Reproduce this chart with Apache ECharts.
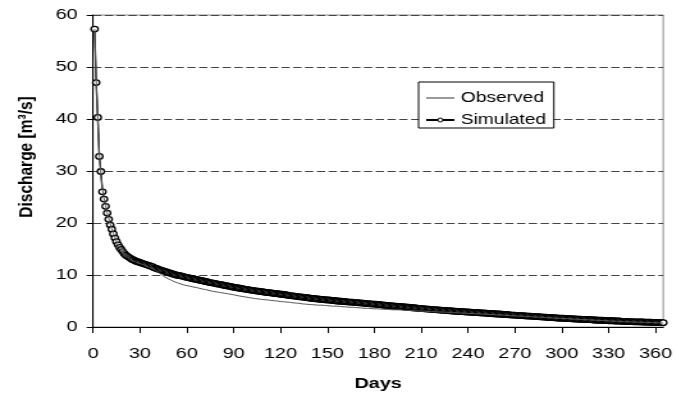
<!DOCTYPE html>
<html>
<head>
<meta charset="utf-8">
<script src="https://cdn.jsdelivr.net/npm/echarts@6/dist/echarts.min.js"></script>
<style>
  html, body { margin: 0; padding: 0; background: #fff; overflow: hidden; }
  /* the original picture is stretched sideways, so draw narrow and stretch */
  #main { width: 528px; height: 397px; transform: scaleX(1.28); transform-origin: 0 0; }
</style>
</head>
<body>
<div id="main"></div>
<script>
// day 1 .. 365, one value per day
var observed = [
  57.3, 47.5, 40.0, 33.5, 29.5, 26.5, 24.8, 23.4, 22.0, 20.9, 19.8, 18.9, 18.0, 17.2, 16.5,
  15.9, 15.3, 14.8, 14.4, 14.0, 13.7, 13.4, 13.2, 13.0, 12.8, 12.7, 12.5, 12.4, 12.3, 12.2,
  12.1, 12.0, 11.9, 11.7, 11.6, 11.5, 11.3, 11.2, 11.0, 10.9, 10.7, 10.5, 10.3, 10.0, 9.8,
  9.6, 9.4, 9.3, 9.1, 9.0, 8.8, 8.7, 8.6, 8.5, 8.4, 8.3, 8.2, 8.1, 8.0, 7.95,
  7.9, 7.85, 7.8, 7.7, 7.65, 7.6, 7.5, 7.45, 7.4, 7.3, 7.25, 7.2, 7.1, 7.05, 7.0,
  6.9, 6.85, 6.8, 6.75, 6.7, 6.65, 6.6, 6.55, 6.5, 6.45, 6.4, 6.35, 6.3, 6.25, 6.2,
  6.1, 6.05, 6.0, 5.95, 5.9, 5.85, 5.8, 5.75, 5.7, 5.65, 5.6, 5.55, 5.5, 5.45, 5.4,
  5.4, 5.35, 5.3, 5.3, 5.25, 5.2, 5.2, 5.15, 5.1, 5.1, 5.05, 5.0, 5.0, 4.95, 4.9,
  4.9, 4.85, 4.85, 4.8, 4.75, 4.75, 4.7, 4.65, 4.65, 4.6, 4.55, 4.55, 4.5, 4.45, 4.45,
  4.4, 4.4, 4.35, 4.35, 4.3, 4.3, 4.25, 4.25, 4.2, 4.2, 4.2, 4.15, 4.15, 4.1, 4.1,
  4.1, 4.05, 4.05, 4.0, 4.0, 4.0, 3.95, 3.95, 3.9, 3.9, 3.9, 3.85, 3.85, 3.8, 3.8,
  3.8, 3.75, 3.75, 3.7, 3.7, 3.7, 3.65, 3.65, 3.6, 3.6, 3.6, 3.55, 3.55, 3.5, 3.5,
  3.5, 3.5, 3.45, 3.45, 3.45, 3.4, 3.4, 3.4, 3.35, 3.35, 3.35, 3.3, 3.3, 3.3, 3.3,
  3.3, 3.25, 3.25, 3.25, 3.2, 3.2, 3.2, 3.15, 3.15, 3.15, 3.1, 3.1, 3.1, 3.1, 3.05,
  3.05, 3.05, 3.0, 3.0, 3.0, 2.95, 2.95, 2.95, 2.9, 2.9, 2.9, 2.9, 2.85, 2.85, 2.85,
  2.85, 2.8, 2.8, 2.8, 2.75, 2.75, 2.75, 2.7, 2.7, 2.7, 2.7, 2.65, 2.65, 2.65, 2.6,
  2.6, 2.6, 2.6, 2.55, 2.55, 2.55, 2.5, 2.5, 2.5, 2.5, 2.45, 2.45, 2.45, 2.4, 2.4,
  2.4, 2.35, 2.35, 2.35, 2.3, 2.3, 2.3, 2.25, 2.25, 2.25, 2.2, 2.2, 2.2, 2.15, 2.15,
  2.15, 2.1, 2.1, 2.1, 2.05, 2.05, 2.05, 2.0, 2.0, 2.0, 1.95, 1.95, 1.95, 1.9, 1.9,
  1.9, 1.85, 1.85, 1.85, 1.8, 1.8, 1.8, 1.75, 1.75, 1.75, 1.7, 1.7, 1.7, 1.65, 1.65,
  1.65, 1.6, 1.6, 1.6, 1.55, 1.55, 1.55, 1.5, 1.5, 1.5, 1.45, 1.45, 1.45, 1.4, 1.4,
  1.4, 1.4, 1.35, 1.35, 1.35, 1.3, 1.3, 1.3, 1.25, 1.25, 1.25, 1.2, 1.2, 1.2, 1.15,
  1.15, 1.15, 1.1, 1.1, 1.1, 1.1, 1.05, 1.05, 1.05, 1.0, 1.0, 1.0, 1.0, 0.98, 0.97,
  0.96, 0.95, 0.94, 0.93, 0.92, 0.91, 0.9, 0.89, 0.88, 0.87, 0.86, 0.85, 0.84, 0.83, 0.82,
  0.81, 0.8, 0.79, 0.78, 0.77
];

var simulated = [
  57.3, 47.0, 40.3, 32.8, 29.9, 26.0, 24.6, 23.2, 21.9, 20.7, 19.6, 18.8, 17.9, 17.1, 16.4,
  15.8, 15.3, 14.9, 14.5, 14.1, 13.8, 13.6, 13.4, 13.2, 13.0, 12.9, 12.7, 12.6, 12.5, 12.4,
  12.3, 12.2, 12.1, 12.0, 11.9, 11.8, 11.7, 11.6, 11.4, 11.3, 11.2, 11.1, 11.0, 10.9, 10.8,
  10.7, 10.6, 10.5, 10.4, 10.3, 10.2, 10.1, 10.0, 9.95, 9.9, 9.85, 9.8, 9.7, 9.6, 9.55,
  9.5, 9.4, 9.35, 9.3, 9.2, 9.15, 9.1, 9.0, 8.95, 8.9, 8.8, 8.75, 8.7, 8.6, 8.55,
  8.5, 8.45, 8.4, 8.3, 8.25, 8.2, 8.15, 8.1, 8.0, 7.95, 7.9, 7.85, 7.8, 7.7, 7.65,
  7.6, 7.55, 7.5, 7.45, 7.4, 7.35, 7.3, 7.25, 7.2, 7.15, 7.1, 7.05, 7.0, 6.95, 6.9,
  6.9, 6.85, 6.8, 6.75, 6.7, 6.65, 6.6, 6.6, 6.55, 6.5, 6.45, 6.4, 6.4, 6.35, 6.3,
  6.3, 6.25, 6.2, 6.15, 6.1, 6.05, 6.0, 6.0, 5.95, 5.9, 5.85, 5.8, 5.8, 5.75, 5.7,
  5.7, 5.65, 5.6, 5.55, 5.5, 5.5, 5.45, 5.4, 5.4, 5.35, 5.3, 5.3, 5.25, 5.2, 5.2,
  5.2, 5.15, 5.1, 5.1, 5.05, 5.0, 5.0, 4.95, 4.95, 4.9, 4.9, 4.85, 4.85, 4.8, 4.8,
  4.8, 4.75, 4.7, 4.7, 4.65, 4.65, 4.6, 4.6, 4.55, 4.5, 4.5, 4.45, 4.45, 4.4, 4.4,
  4.4, 4.35, 4.3, 4.3, 4.25, 4.2, 4.2, 4.15, 4.1, 4.1, 4.05, 4.05, 4.0, 4.0, 3.95,
  3.95, 3.9, 3.9, 3.85, 3.85, 3.8, 3.8, 3.75, 3.7, 3.7, 3.65, 3.65, 3.6, 3.6, 3.6,
  3.55, 3.5, 3.5, 3.45, 3.45, 3.4, 3.4, 3.35, 3.35, 3.3, 3.3, 3.25, 3.25, 3.2, 3.2,
  3.2, 3.15, 3.15, 3.1, 3.1, 3.05, 3.05, 3.0, 3.0, 3.0, 2.95, 2.95, 2.9, 2.9, 2.9,
  2.85, 2.85, 2.8, 2.8, 2.8, 2.75, 2.75, 2.7, 2.7, 2.7, 2.65, 2.65, 2.6, 2.6, 2.6,
  2.55, 2.55, 2.5, 2.5, 2.5, 2.45, 2.45, 2.4, 2.4, 2.4, 2.35, 2.35, 2.3, 2.3, 2.3,
  2.25, 2.25, 2.2, 2.2, 2.2, 2.15, 2.15, 2.1, 2.1, 2.1, 2.05, 2.05, 2.0, 2.0, 2.0,
  1.95, 1.95, 1.9, 1.9, 1.9, 1.85, 1.85, 1.8, 1.8, 1.8, 1.75, 1.75, 1.7, 1.7, 1.7,
  1.7, 1.65, 1.65, 1.6, 1.6, 1.6, 1.55, 1.55, 1.55, 1.5, 1.5, 1.5, 1.45, 1.45, 1.45,
  1.45, 1.4, 1.4, 1.4, 1.35, 1.35, 1.35, 1.3, 1.3, 1.3, 1.3, 1.25, 1.25, 1.25, 1.2,
  1.2, 1.2, 1.2, 1.15, 1.15, 1.15, 1.15, 1.1, 1.1, 1.1, 1.1, 1.05, 1.05, 1.05, 1.05,
  1.0, 1.0, 1.0, 1.0, 0.98, 0.97, 0.96, 0.95, 0.94, 0.93, 0.92, 0.91, 0.9, 0.89, 0.88,
  0.87, 0.86, 0.85, 0.84, 0.83
];

var xTicks = [0, 30, 60, 90, 120, 150, 180, 210, 240, 270, 300, 330, 360];
var yTicks = [0, 10, 20, 30, 40, 50, 60];

var font = '"Liberation Sans", Arial, sans-serif';

// first value is day 1
function pairs(arr) {
  return arr.map(function (v, i) { return [i + 1, v]; });
}

var myChart = echarts.init(document.getElementById('main'), null, { renderer: 'canvas' });

var option = {
  backgroundColor: '#fff',
  animation: false,
  textStyle: { fontFamily: font, color: '#000' },
  grid: {
    left: 72.7,
    right: 9.3,
    top: 15,
    bottom: 70,
    show: true,
    borderColor: '#8c8c8c',
    borderWidth: 1,
    backgroundColor: 'transparent'
  },
  legend: {
    orient: 'vertical',
    left: 327,
    top: 82,
    padding: [8, 6, 0, 5],
    itemGap: 6,
    itemWidth: 22,
    itemHeight: 5,
    borderColor: '#000',
    borderWidth: 1,
    backgroundColor: '#fff',
    borderRadius: 0,
    textStyle: { fontFamily: font, fontSize: 15, color: '#000', lineHeight: 16 },
    data: [
      { name: 'Observed', icon: 'path://M0,0h22v1h-22z', itemStyle: { color: '#333' } },
      { name: 'Simulated', itemStyle: { color: '#fff', borderColor: '#000', borderWidth: 1 } }
    ]
  },
  xAxis: {
    type: 'value',
    min: 0,
    max: 365,
    interval: 30,
    name: 'Days',
    nameLocation: 'middle',
    nameGap: 49,
    nameTextStyle: { fontFamily: font, fontSize: 15.5, fontWeight: 'bold', color: '#000' },
    axisLine: { show: true, lineStyle: { color: '#000', width: 1 } },
    axisTick: { show: true, inside: false, length: 6, customValues: xTicks, lineStyle: { color: '#000' } },
    axisLabel: { customValues: xTicks, margin: 19, fontFamily: font, fontSize: 15.5, color: '#000' },
    splitLine: { show: false }
  },
  yAxis: {
    type: 'value',
    min: 0,
    max: 60,
    interval: 10,
    name: 'Discharge [m³/s]',
    nameLocation: 'middle',
    nameRotate: 90,
    nameGap: 44,
    nameTextStyle: { fontFamily: font, fontSize: 15.5, fontWeight: 'bold', color: '#000', padding: [0, 0, 0, 28] },
    axisLine: { show: true, lineStyle: { color: '#000', width: 1 } },
    axisTick: { show: true, inside: false, length: 5, customValues: yTicks, lineStyle: { color: '#000' } },
    axisLabel: { customValues: yTicks, margin: 12, fontFamily: font, fontSize: 15.5, color: '#000' },
    splitLine: { show: true, lineStyle: { color: '#444', width: 1, type: [6.5, 2.7] } }
  },
  series: [
    {
      name: 'Observed',
      type: 'line',
      data: pairs(observed),
      showSymbol: false,
      symbol: 'none',
      lineStyle: { color: '#555', width: 1 },
      itemStyle: { color: '#555' },
      z: 3
    },
    {
      name: 'Simulated',
      type: 'line',
      data: pairs(simulated),
      symbol: 'circle',
      symbolSize: 5.5,
      showAllSymbol: true,
      lineStyle: { color: '#000', width: 1.3 },
      itemStyle: { color: '#fff', borderColor: '#000', borderWidth: 1.3 },
      z: 2
    }
  ]
};

myChart.setOption(option);
</script>
</body>
</html>
